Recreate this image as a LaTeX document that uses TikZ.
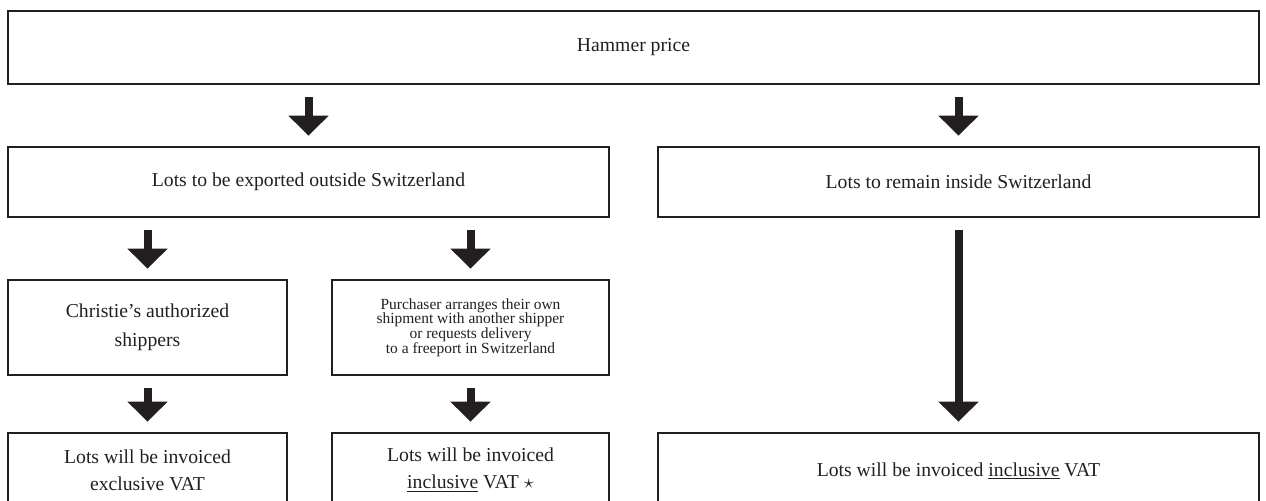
\documentclass[tikz,border=0pt]{standalone}
\usepackage{fontspec}
\setmainfont{Liberation Serif}
\usepackage{tikz}
\usetikzlibrary{arrows.meta}
\definecolor{BoxBlack}{RGB}{35,31,32}

\begin{document}
\begin{tikzpicture}[x=0.25mm, y=-0.25mm,
	font=\fontsize{14}{19}\selectfont,
	box/.style={draw=BoxBlack, line width=0.65mm, align=center, inner sep=0pt, text=BoxBlack},
	fl/.style={-{Triangle[width=9.75mm, length=5mm]}, line width=2mm, draw=BoxBlack, fill=BoxBlack,
		shorten <=3mm, shorten >=2.5mm}]
	\useasboundingbox (0,0) rectangle (1266,501);
	\clip (0,0) rectangle (1266,501);

	% ---------- hammer price ----------
	\node[box, minimum width=312.75mm, minimum height=18.25mm] (ham) at (633.5,47.5) {Hammer price};

	% ---------- export / remain ----------
	\node[box, minimum width=150.25mm, minimum height=17.5mm] (exp) at (308.5,182) {Lots to be exported outside Switzerland};
	\node[box, minimum width=150.25mm, minimum height=17.5mm] (rem) at (958.5,182) {Lots to remain inside Switzerland};

	% ---------- shippers ----------
	\node[box, minimum width=69.75mm, minimum height=23.75mm, font=\fontsize{14}{20.5}\selectfont] (chr) at (147.5,327.5)
		{Christie's authorized\\shippers};
	\node[box, minimum width=69.25mm, minimum height=23.75mm, font=\fontsize{11}{10.5}\selectfont] (pur) at (470.5,327.5)
		{Purchaser arranges their own\\shipment with another shipper\\or requests delivery\\to a freeport in Switzerland};

	% ---------- invoices ----------
	\node[box, minimum width=69.75mm, minimum height=18.5mm] (exc) at (147.5,470) {Lots will be invoiced\\exclusive VAT};
	\node[box, minimum width=69.25mm, minimum height=18.5mm] (inc) at (470.5,470) {Lots will be invoiced\\\underline{inclusive} VAT $\star$};
	\node[box, minimum width=150.25mm, minimum height=19mm] (all) at (958.5,471) {Lots will be invoiced \underline{inclusive} VAT};

	% ---------- arrows ----------
	\draw[fl] (exp |- ham.south) -- (exp);
	\draw[fl] (rem |- ham.south) -- (rem);
	\draw[fl] (chr |- exp.south) -- (chr);
	\draw[fl] (pur |- exp.south) -- (pur);
	\draw[fl] (chr) -- (exc);
	\draw[fl] (pur) -- (inc);
	\draw[fl] (rem) -- (all);
\end{tikzpicture}
\end{document}
